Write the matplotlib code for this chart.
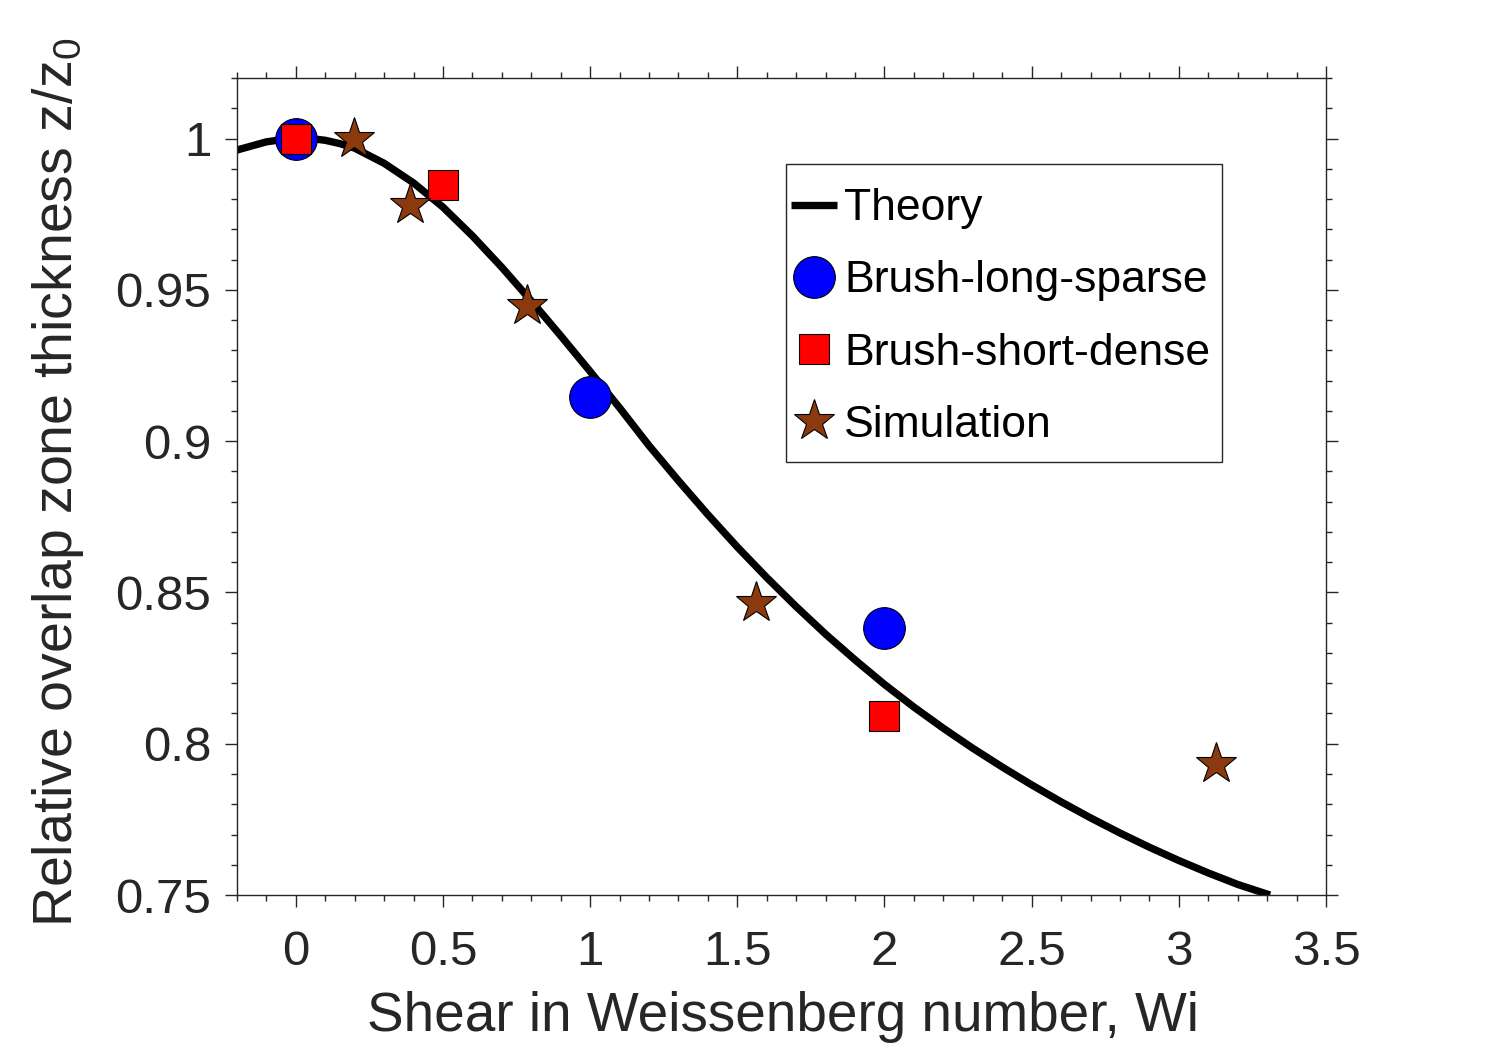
import matplotlib
matplotlib.use('Agg')
import matplotlib.pyplot as plt
from matplotlib.patches import Rectangle
from matplotlib.ticker import MultipleLocator

plt.rcParams['font.family'] = ['Liberation Sans', 'DejaVu Sans']
plt.rcParams['mathtext.fontset'] = 'custom'
plt.rcParams['mathtext.rm'] = 'Liberation Sans'

# theory curve
theory_wi = [-0.2, -0.1, -0.05, 0.0, 0.05, 0.1, 0.15, 0.2, 0.3, 0.4, 0.5, 0.6, 0.7, 0.8, 0.9,
             1.0, 1.1, 1.2, 1.3, 1.4, 1.5, 1.6, 1.7, 1.8, 1.9, 2.0, 2.1, 2.2, 2.3, 2.4,
             2.5, 2.6, 2.7, 2.8, 2.9, 3.0, 3.1, 3.2, 3.31]
theory_z = [0.9962, 0.9989, 0.9996, 0.9999, 1.0000, 0.9994, 0.9983, 0.9968, 0.9918, 0.9853,
            0.9773, 0.9678, 0.9574, 0.9463, 0.9348, 0.9230, 0.9110, 0.8985, 0.8869, 0.8757,
            0.8650, 0.8549, 0.8453, 0.8362, 0.8277, 0.8196, 0.8121, 0.8051, 0.7985, 0.7923,
            0.7864, 0.7808, 0.7755, 0.7705, 0.7658, 0.7614, 0.7573, 0.7535, 0.7500]

long_sparse_wi = [0.0, 1.0, 2.0]
long_sparse_z = [1.0, 0.9146, 0.8383]

short_dense_wi = [0.0, 0.5, 2.0]
short_dense_z = [1.0, 0.9848, 0.8092]

sim_wi = [0.196, 0.388, 0.785, 1.565, 3.125]
sim_z = [0.9997, 0.9780, 0.9448, 0.8466, 0.7932]

axis_col = '#262626'

fig = plt.figure(figsize=(15.03, 10.44), dpi=100)
ax = fig.add_axes([0.1577, 0.1427, 0.7245, 0.7826])

ax.plot(theory_wi, theory_z, color='black', lw=5.3, solid_capstyle='butt', label='Theory')
ax.plot(long_sparse_wi, long_sparse_z, 'o', ms=30, mfc='#0000ff', mec='black', mew=0.8,
        label='Brush-long-sparse')
ax.plot(short_dense_wi, short_dense_z, 's', ms=21, mfc='#ff0000', mec='black', mew=0.8,
        label='Brush-short-dense')
ax.plot(sim_wi, sim_z, '*', ms=31, mfc='#8b3a0e', mec='black', mew=0.8, label='Simulation')

ax.set_xlim(-0.2, 3.5)
ax.set_ylim(0.75, 1.02)
ax.xaxis.set_major_locator(MultipleLocator(0.5))
ax.xaxis.set_minor_locator(MultipleLocator(0.1))
ax.yaxis.set_major_locator(MultipleLocator(0.05))
ax.yaxis.set_minor_locator(MultipleLocator(0.01))
ax.set_xticks([0, 0.5, 1, 1.5, 2, 2.5, 3, 3.5])
ax.set_xticklabels(['0', '0.5', '1', '1.5', '2', '2.5', '3', '3.5'])
ax.set_yticks([0.75, 0.8, 0.85, 0.9, 0.95, 1.0])
ax.set_yticklabels(['0.75', '0.8', '0.85', '0.9', '0.95', '1'])

ax.tick_params(which='both', direction='out', top=True, right=True, color=axis_col,
               width=1.0, labelcolor=axis_col, labelsize=35.5)
ax.tick_params(which='major', length=8.5)
ax.tick_params(which='minor', length=4.3)
ax.tick_params(axis='x', which='major', pad=17)
ax.tick_params(axis='y', which='major', pad=10)
for sp in ax.spines.values():
    sp.set_color(axis_col)
    sp.set_linewidth(1.0)

ax.set_xlabel('Shear in Weissenberg number, Wi', fontsize=39.5, color=axis_col)
ax.xaxis.set_label_coords(0.501, -0.117)
ax.xaxis.label.set_va('top')
ax.set_ylabel('Relative overlap zone thickness z/z$_\\mathregular{0}$', fontsize=40,
              color=axis_col)
ax.yaxis.set_label_coords(-0.139, 0.505)

# legend box drawn separately so the padding can match the reference
ax.add_patch(Rectangle((0.5041, 0.530), 0.4004, 0.3647, transform=ax.transAxes,
                       facecolor='white', edgecolor=axis_col, lw=1.0, zorder=4))
leg = ax.legend(loc='upper left', bbox_to_anchor=(0.5085, 0.865), fontsize=32,
                frameon=False, borderpad=0, labelspacing=0.7, handlelength=1.05,
                handletextpad=0.15, borderaxespad=0, numpoints=1)
leg.set_zorder(5)

fig.savefig('out.png', dpi=100)
